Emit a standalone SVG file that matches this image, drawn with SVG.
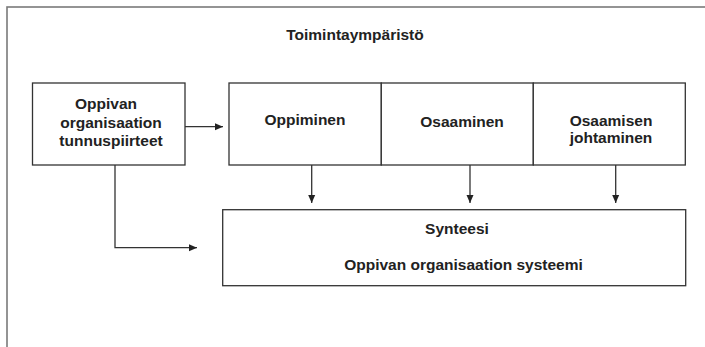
<svg xmlns="http://www.w3.org/2000/svg" width="705" height="347" viewBox="0 0 705 347">
  <style>
    .frame { fill: none; stroke: #7a7a7a; stroke-width: 1.6; }
    .box { fill: #ffffff; stroke: #333333; stroke-width: 1.3; }
    .label { font-family: "Liberation Sans", Arial, sans-serif; font-weight: bold; font-size: 15.5px; fill: #222222; text-anchor: middle; }
    .conn { fill: none; stroke: #333333; stroke-width: 1.3; }
  </style>
  <defs>
    <marker id="arrow" viewBox="0 0 8 8" refX="8" refY="4" markerWidth="8" markerHeight="8" markerUnits="userSpaceOnUse" orient="auto">
      <path d="M0,0.5 L8,4 L0,7.5 Z" fill="#222222"/>
    </marker>
  </defs>

  <rect width="705" height="347" fill="#ffffff"/>

  <!-- operating environment frame (open at right and bottom) -->
  <g id="environment">
    <rect class="frame" x="7" y="7" width="730" height="360"/>
    <text class="label" x="355" y="40">Toimintaympäristö</text>
  </g>

  <g id="features">
    <rect class="box" x="32.5" y="83" width="152.5" height="82"/>
    <text class="label" x="106" y="109">Oppivan</text>
    <text class="label" x="111" y="127.5">organisaation</text>
    <text class="label" x="111" y="146">tunnuspiirteet</text>
  </g>

  <g id="learning">
    <rect class="box" x="229" y="83" width="152.3" height="82"/>
    <text class="label" x="305" y="125">Oppiminen</text>
  </g>

  <g id="competence">
    <rect class="box" x="381.3" y="83" width="152" height="82"/>
    <text class="label" x="462" y="127">Osaaminen</text>
  </g>

  <g id="competence-management">
    <rect class="box" x="533.3" y="83" width="152" height="82"/>
    <text class="label" x="611" y="125.5">Osaamisen</text>
    <text class="label" x="611" y="142.5">johtaminen</text>
  </g>

  <g id="synthesis">
    <rect class="box" x="222.7" y="209.7" width="463" height="76"/>
    <text class="label" x="457" y="233.5">Synteesi</text>
    <text class="label" x="463.5" y="270">Oppivan organisaation systeemi</text>
  </g>

  <g id="connectors">
    <line class="conn" x1="185" y1="126.7" x2="223" y2="126.7" marker-end="url(#arrow)"/>
    <polyline class="conn" points="115,165 115,247.7 197,247.7" marker-end="url(#arrow)"/>
    <line class="conn" x1="311.7" y1="165" x2="311.7" y2="203" marker-end="url(#arrow)"/>
    <line class="conn" x1="470" y1="165" x2="470" y2="203" marker-end="url(#arrow)"/>
    <line class="conn" x1="615.7" y1="165" x2="615.7" y2="203" marker-end="url(#arrow)"/>
  </g>
</svg>
